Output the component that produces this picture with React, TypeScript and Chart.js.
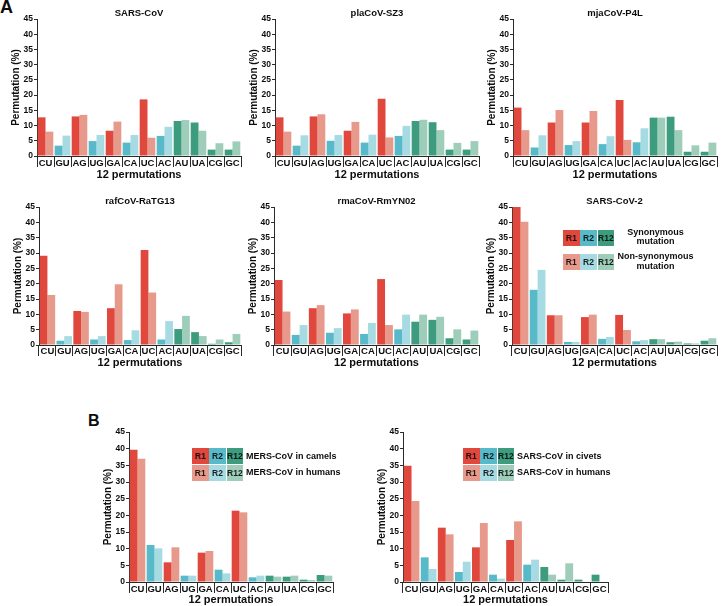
import React, { useEffect, useRef } from "react";
import { Chart, registerables } from "chart.js";

Chart.register(...registerables);

const FONT = "'Liberation Sans', Arial, Helvetica, sans-serif";

// ---------- data ----------
const categories = ["CU", "GU", "AG", "UG", "GA", "CA", "UC", "AC", "AU", "UA", "CG", "GC"];
const categoryGroups = ["R1", "R2", "R1", "R2", "R1", "R2", "R1", "R2", "R12", "R12", "R12", "R12"];
const legendGroups = ["R1", "R2", "R12"];
const yMax = 45;
const yStep = 5;
const xAxisTitle = "12 permutations";
const yAxisTitle = "Permutation (%)";

const sarsCovSyn = [12.7, 3.4, 13.0, 4.9, 8.3, 4.4, 18.6, 6.6, 11.5, 11.0, 2.1, 2.1];
const sarsCovNon = [8.0, 6.7, 13.5, 6.9, 11.3, 6.9, 6.0, 9.6, 11.8, 8.3, 4.2, 4.8];

const plaCovSyn = [12.7, 3.4, 13.0, 5.0, 8.3, 4.4, 18.8, 6.6, 11.5, 11.1, 2.1, 2.1];
const plaCovNon = [8.0, 6.8, 13.7, 6.9, 11.2, 7.0, 6.1, 9.9, 11.9, 8.5, 4.3, 4.9];

const mjaCovSyn = [15.9, 2.8, 11.0, 3.6, 11.0, 3.9, 18.4, 4.5, 12.6, 12.9, 1.4, 1.4];
const mjaCovNon = [8.5, 6.8, 15.1, 4.9, 14.8, 6.5, 5.3, 9.1, 12.6, 8.5, 3.5, 4.4];

const rafCovSyn = [29.1, 1.4, 11.1, 1.8, 12.0, 1.6, 31.0, 1.8, 5.2, 4.2, 0.4, 0.9];
const rafCovNon = [16.3, 2.9, 10.8, 2.9, 19.8, 4.8, 17.1, 7.8, 9.5, 2.9, 1.8, 3.6];

const rmaCovSyn = [21.2, 3.3, 12.0, 4.0, 10.3, 3.6, 21.5, 5.1, 7.6, 8.2, 2.2, 1.8];
const rmaCovNon = [10.9, 6.5, 13.0, 5.5, 11.6, 7.2, 6.5, 9.9, 9.9, 9.2, 5.1, 4.7];

const sarsCov2Syn = [45.0, 18.0, 9.7, 1.0, 9.1, 2.0, 9.8, 1.2, 1.9, 0.9, 0.5, 1.4];
const sarsCov2Non = [40.2, 24.5, 9.7, 1.0, 9.9, 2.6, 4.9, 1.6, 1.9, 1.1, 0.5, 2.2];

const mersCamels = [39.7, 11.1, 5.9, 1.9, 8.8, 3.7, 21.4, 1.4, 1.9, 1.6, 0.7, 2.1];
const mersHumans = [37.0, 10.1, 10.4, 1.9, 9.3, 2.6, 20.9, 1.9, 1.6, 1.9, 0.6, 1.9];

const sarsCivets = [34.9, 7.4, 16.3, 3.0, 10.4, 2.2, 12.6, 5.2, 4.5, 0.7, 0.7, 2.2];
const sarsHumans = [24.3, 3.9, 14.3, 6.1, 17.7, 1.0, 18.2, 6.7, 2.2, 5.6, 0, 0];

// ---------- styles ----------
const darkColors: Record<string, string> = { R1: "#E0483E", R2: "#58B9C8", R12: "#3D9C7D" };
const lightColors: Record<string, string> = { R1: "#E79A8B", R2: "#A7DBE3", R12: "#9ECDB9" };
const TEXT = "#0d0d0d";
const AXIS = "#2a2a2a";

const YW = 32; // y-axis box width
const TH = 15; // title block height
const XH = 28; // x-axis box height
const RP = 2; // right padding
const NT = 8; // top padding when no title

const X_TICK_SIZE = 9.5;
const X_TITLE_SIZE = 11;
const Y_TICK_SIZE = 8.5;
const Y_TITLE_SIZE = 10;
const TITLE_SIZE = 9.5;

type PanelProps = {
  x: number;
  y: number;
  w: number;
  h: number;
  title?: string;
  a: number[];
  b: number[];
  labelOffset: number;
  titleOffset: number;
};

function Panel(p: PanelProps) {
  const ref = useRef<HTMLCanvasElement | null>(null);
  const hasTitle = !!p.title;
  const topSpace = hasTitle ? TH : NT;
  const cw = YW + p.w + RP;
  const ch = topSpace + p.h + XH;

  useEffect(() => {
    if (!ref.current) return;
    const chart = new Chart(ref.current, {
      type: "bar",
      data: {
        labels: categories,
        datasets: [
          {
            data: p.a,
            backgroundColor: categoryGroups.map((g) => darkColors[g]),
            borderWidth: 0,
            barPercentage: 1,
            categoryPercentage: 0.92,
          },
          {
            data: p.b,
            backgroundColor: categoryGroups.map((g) => lightColors[g]),
            borderWidth: 0,
            barPercentage: 1,
            categoryPercentage: 0.92,
          },
        ],
      },
      options: {
        responsive: false,
        animation: false,
        devicePixelRatio: 1,
        layout: { padding: { left: 0, right: RP, top: hasTitle ? 0 : NT, bottom: 0 } },
        plugins: {
          legend: { display: false },
          tooltip: { enabled: false },
          title: {
            display: hasTitle,
            text: p.title || "",
            fullSize: false,
            color: TEXT,
            font: { family: FONT, size: TITLE_SIZE, weight: "bold", lineHeight: 1 },
            padding: { top: TH - TITLE_SIZE - 1, bottom: 1 },
          },
        },
        scales: {
          x: {
            type: "category",
            offset: true,
            grid: {
              offset: true,
              drawOnChartArea: false,
              drawTicks: true,
              tickLength: 11,
              color: AXIS,
              lineWidth: 1,
            },
            border: { display: true, color: AXIS, width: 1 },
            ticks: {
              autoSkip: false,
              maxRotation: 0,
              minRotation: 0,
              padding: p.labelOffset - 11 - X_TICK_SIZE / 2,
              color: TEXT,
              font: { family: FONT, size: X_TICK_SIZE, weight: "bold", lineHeight: 1 },
            },
            title: {
              display: true,
              text: xAxisTitle,
              color: TEXT,
              font: { family: FONT, size: X_TITLE_SIZE, weight: "bold", lineHeight: 1 },
              padding: { top: 0, bottom: XH - p.titleOffset - X_TITLE_SIZE / 2 },
            },
            afterFit: (s: any) => {
              s.height = XH;
            },
          },
          y: {
            min: 0,
            max: yMax,
            ticks: {
              stepSize: yStep,
              padding: 1,
              color: TEXT,
              font: { family: FONT, size: Y_TICK_SIZE, weight: "bold", lineHeight: 1 },
            },
            grid: { drawOnChartArea: false, drawTicks: true, tickLength: 3, color: AXIS },
            border: { display: true, color: AXIS, width: 1 },
            title: {
              display: true,
              text: yAxisTitle,
              color: TEXT,
              font: { family: FONT, size: Y_TITLE_SIZE, weight: "bold", lineHeight: 1 },
              padding: { top: YW - 20.5 - Y_TITLE_SIZE / 2, bottom: 0 },
            },
            afterFit: (s: any) => {
              s.width = YW;
            },
          },
        },
      },
    } as any);
    return () => chart.destroy();
  }, []);

  return (
    <canvas
      ref={ref}
      width={cw}
      height={ch}
      style={{ position: "absolute", left: p.x - YW, top: p.y - topSpace, width: cw, height: ch }}
    />
  );
}

function KeyRow({ left, top, h, light }: { left: number; top: number; h: number; light: boolean }) {
  return (
    <>
      {legendGroups.map((g, i) => (
        <div
          key={g}
          style={{
            position: "absolute",
            left: left + i * 17.3,
            top,
            width: 16.5,
            height: h,
            background: light ? lightColors[g] : darkColors[g],
            font: `bold 8.5px ${FONT}`,
            color: "rgba(0,0,0,0.85)",
            display: "flex",
            alignItems: "center",
            justifyContent: "center",
          }}
        >
          {g}
        </div>
      ))}
    </>
  );
}

function Label({ left, top, text, size = 9 }: { left: number; top: number; text: string; size?: number }) {
  return (
    <div
      style={{
        position: "absolute",
        left,
        top,
        font: `bold ${size}px ${FONT}`,
        lineHeight: "10px",
        color: TEXT,
        whiteSpace: "nowrap",
      }}
    >
      {text}
    </div>
  );
}

export default function App() {
  return (
    <div style={{ position: "absolute", left: 0, top: 0, width: 721, height: 606, background: "#fff", overflow: "hidden" }}>
      <div style={{ position: "absolute", left: 0, top: -2, font: `bold 18px ${FONT}`, lineHeight: "18px", color: TEXT }}>A</div>
      <div style={{ position: "absolute", left: 88, top: 413, font: `bold 16px ${FONT}`, lineHeight: "16px", color: TEXT }}>B</div>

      <Panel x={37} y={19} w={204} h={137} title="SARS-CoV" a={sarsCovSyn} b={sarsCovNon} labelOffset={7} titleOffset={19} />
      <Panel x={275} y={19} w={204} h={137} title="plaCoV-SZ3" a={plaCovSyn} b={plaCovNon} labelOffset={7} titleOffset={19} />
      <Panel x={513} y={19} w={204} h={137} title="mjaCoV-P4L" a={mjaCovSyn} b={mjaCovNon} labelOffset={7} titleOffset={19} />

      <Panel x={39} y={207} w={202} h={138} title="rafCoV-RaTG13" a={rafCovSyn} b={rafCovNon} labelOffset={6} titleOffset={18} />
      <Panel x={274} y={207} w={205} h={138} title="rmaCoV-RmYN02" a={rmaCovSyn} b={rmaCovNon} labelOffset={6} titleOffset={18} />
      <Panel x={512} y={207} w={205} h={138} title="SARS-CoV-2" a={sarsCov2Syn} b={sarsCov2Non} labelOffset={6} titleOffset={18} />

      <Panel x={129} y={432} w={204} h={150} a={mersCamels} b={mersHumans} labelOffset={7} titleOffset={18} />
      <Panel x={403} y={432} w={205} h={150} a={sarsCivets} b={sarsHumans} labelOffset={7} titleOffset={18} />

      {/* SARS-CoV-2 key */}
      <KeyRow left={563} top={230} h={16} light={false} />
      <KeyRow left={563} top={254} h={16} light={true} />
      <div
        style={{
          position: "absolute",
          left: 610.5,
          top: 227.5,
          width: 90,
          textAlign: "center",
          font: `bold 9px ${FONT}`,
          lineHeight: "9.5px",
          color: TEXT,
        }}
      >
        Synonymous
        <br />
        mutation
      </div>
      <div
        style={{
          position: "absolute",
          left: 610.5,
          top: 252,
          width: 90,
          textAlign: "center",
          font: `bold 9px ${FONT}`,
          lineHeight: "9.5px",
          color: TEXT,
        }}
      >
        Non-synonymous
        <br />
        mutation
      </div>

      {/* MERS key */}
      <KeyRow left={192} top={448} h={15.5} light={false} />
      <KeyRow left={192} top={464.5} h={16} light={true} />
      <Label left={246} top={451} text="MERS-CoV in camels" />
      <Label left={246} top={467} text="MERS-CoV in humans" />

      {/* SARS civets key */}
      <KeyRow left={463} top={448} h={15.5} light={false} />
      <KeyRow left={463} top={464.5} h={16} light={true} />
      <Label left={517} top={451} text="SARS-CoV in civets" />
      <Label left={517} top={467} text="SARS-CoV in humans" />
    </div>
  );
}
